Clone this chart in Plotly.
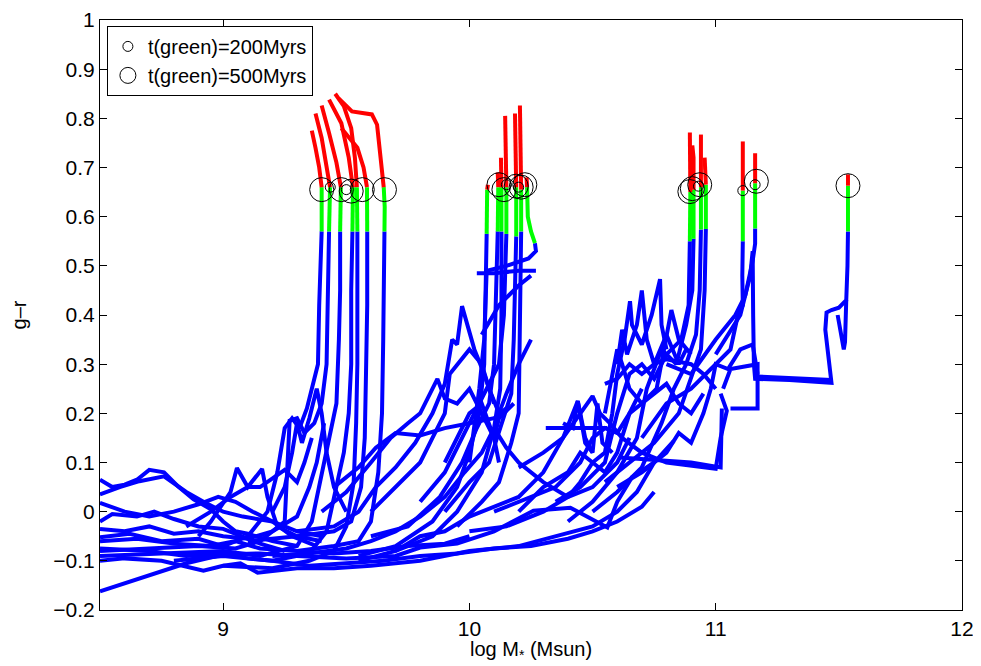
import plotly.graph_objects as go

# ---- data (log M*, g-r) ----
# quenching tracks: blue part, then green part, then red part
q_blue = [
    [(8.5, -0.052), (8.62, -0.045), (8.75, -0.06), (8.9, -0.055), (9.0, -0.07), (9.1, -0.05), (9.18, 0.0),
     (9.22, 0.08), (9.25, 0.17), (9.28, 0.19), (9.31, 0.17), (9.34, 0.21), (9.37, 0.27), (9.385, 0.30),
     (9.39, 0.42), (9.395, 0.52), (9.40, 0.57)],
    [(8.5, -0.08), (8.7, -0.075), (8.9, -0.07), (9.05, -0.075), (9.15, -0.06), (9.25, -0.02), (9.27, 0.185),
     (9.30, 0.19), (9.33, 0.16), (9.37, 0.18), (9.40, 0.22), (9.42, 0.30), (9.425, 0.42), (9.43, 0.57)],
    [(8.5, -0.09), (8.8, -0.085), (9.0, -0.08), (9.15, -0.09), (9.3, -0.07), (9.36, -0.02), (9.40, 0.08),
     (9.43, 0.15), (9.46, 0.22), (9.47, 0.35), (9.475, 0.45), (9.475, 0.57)],
    [(8.8, -0.1), (9.0, -0.09), (9.2, -0.1), (9.35, -0.085), (9.42, -0.04), (9.46, 0.05), (9.49, 0.12),
     (9.51, 0.2), (9.52, 0.3), (9.52, 0.45), (9.525, 0.57)],
    [(9.0, -0.11), (9.2, -0.115), (9.35, -0.1), (9.45, -0.08), (9.5, -0.03), (9.53, 0.06), (9.54, 0.18),
     (9.545, 0.3), (9.545, 0.45), (9.545, 0.57)],
    [(9.1, -0.06), (9.3, -0.05), (9.45, -0.04), (9.52, -0.02), (9.56, 0.05), (9.575, 0.15), (9.58, 0.28),
     (9.585, 0.42), (9.585, 0.57)],
    [(9.3, -0.08), (9.45, -0.07), (9.55, -0.06), (9.6, -0.02), (9.63, 0.08), (9.645, 0.2), (9.65, 0.35),
     (9.655, 0.57)],
    [(9.55, -0.09), (9.7, -0.07), (9.85, -0.02), (9.95, 0.05), (10.0, 0.12), (10.04, 0.2), (10.06, 0.3),
     (10.065, 0.42), (10.07, 0.565)],
    [(9.6, -0.05), (9.75, -0.03), (9.88, 0.03), (9.97, 0.1), (10.03, 0.17), (10.08, 0.22), (10.10, 0.3),
     (10.11, 0.45), (10.115, 0.57)],
    [(9.7, -0.08), (9.85, -0.05), (9.95, 0.0), (10.05, 0.08), (10.1, 0.17), (10.125, 0.25), (10.13, 0.4),
     (10.13, 0.57)],
    [(9.8, 0.02), (9.9, 0.08), (9.97, 0.15), (10.02, 0.2), (10.07, 0.25), (10.12, 0.3), (10.14, 0.4),
     (10.145, 0.52), (10.15, 0.565)],
    [(9.9, 0.0), (10.0, 0.06), (10.08, 0.1), (10.13, 0.18), (10.17, 0.24), (10.18, 0.35), (10.185, 0.5),
     (10.19, 0.56)],
    [(9.95, -0.03), (10.05, 0.02), (10.12, 0.06), (10.17, 0.14), (10.2, 0.2), (10.205, 0.35), (10.21, 0.48),
     (10.21, 0.57)],
    [(10.0, 0.1), (10.04, 0.25), (10.06, 0.35), (10.07, 0.49), (10.15, 0.5), (10.24, 0.515), (10.27, 0.53),
     (10.266, 0.546)],
    [(10.35, 0.02), (10.45, 0.05), (10.55, 0.1), (10.6, 0.2), (10.65, 0.28), (10.7, 0.3), (10.75, 0.27),
     (10.8, 0.32), (10.86, 0.35), (10.89, 0.42), (10.895, 0.55)],
    [(10.4, -0.02), (10.5, 0.02), (10.6, 0.08), (10.68, 0.15), (10.72, 0.25), (10.78, 0.33), (10.84, 0.30),
     (10.88, 0.38), (10.905, 0.45), (10.91, 0.555)],
    [(10.5, 0.0), (10.6, 0.04), (10.7, 0.09), (10.78, 0.18), (10.83, 0.25), (10.88, 0.3), (10.92, 0.36),
     (10.935, 0.45), (10.94, 0.574)],
    [(10.55, 0.06), (10.65, 0.1), (10.75, 0.14), (10.85, 0.2), (10.9, 0.27), (10.94, 0.33), (10.955, 0.45),
     (10.96, 0.575)],
    [(10.7, 0.15), (10.8, 0.22), (10.9, 0.25), (11.0, 0.3), (11.06, 0.33), (11.09, 0.40), (11.11, 0.42),
     (11.108, 0.48), (11.11, 0.55)],
    [(10.8, 0.30), (10.9, 0.28), (11.0, 0.35), (11.08, 0.40), (11.12, 0.44), (11.15, 0.51), (11.16, 0.545),
     (11.16, 0.576)],
    [(11.0, 0.32), (11.1, 0.40), (11.14, 0.48), (11.15, 0.53), (11.152, 0.40), (11.155, 0.30), (11.16, 0.27),
     (11.3, 0.268), (11.47, 0.262), (11.46, 0.30), (11.445, 0.37), (11.45, 0.405), (11.47, 0.41),
     (11.5, 0.415), (11.53, 0.43), (11.535, 0.50), (11.537, 0.57)],
]
q_green = [
    [(9.398, 0.62), (9.40, 0.66)],
    [(9.432, 0.62), (9.434, 0.66)],
    [(9.478, 0.62), (9.478, 0.66)],
    [(9.525, 0.62), (9.527, 0.66)],
    [(9.543, 0.62), (9.543, 0.66)],
    [(9.585, 0.62), (9.584, 0.66)],
    [(9.656, 0.62), (9.652, 0.66)],
    [(10.07, 0.62), (10.072, 0.655)],
    [(10.115, 0.62), (10.117, 0.66)],
    [(10.13, 0.62), (10.13, 0.66)],
    [(10.15, 0.62), (10.15, 0.66)],
    [(10.19, 0.62), (10.19, 0.66)],
    [(10.21, 0.62), (10.21, 0.655)],
    [(10.25, 0.57), (10.237, 0.60), (10.234, 0.66)],
    [(10.895, 0.62), (10.897, 0.65)],
    [(10.91, 0.62), (10.91, 0.655)],
    [(10.94, 0.62), (10.94, 0.66)],
    [(10.96, 0.62), (10.96, 0.665)],
    [(11.11, 0.62), (11.11, 0.653)],
    [(11.16, 0.62), (11.16, 0.668)],
    [(11.537, 0.62), (11.537, 0.663)],
]
q_red = [
    [(9.39, 0.70), (9.375, 0.74), (9.36, 0.775)],
    [(9.42, 0.70), (9.40, 0.76), (9.375, 0.81)],
    [(9.46, 0.71), (9.43, 0.77), (9.40, 0.826)],
    [(9.51, 0.72), (9.48, 0.79), (9.43, 0.838)],
    [(9.535, 0.72), (9.52, 0.78), (9.49, 0.825), (9.455, 0.85)],
    [(9.57, 0.70), (9.545, 0.74), (9.515, 0.76), (9.48, 0.78)],
    [(9.645, 0.69), (9.635, 0.74), (9.625, 0.787), (9.604, 0.808), (9.523, 0.814), (9.495, 0.828),
     (9.47, 0.84)],
    [(10.075, 0.665)],
    [(10.115, 0.69)],
    [(10.128, 0.72)],
    [(10.148, 0.75), (10.145, 0.805)],
    [(10.188, 0.75), (10.185, 0.81)],
    [(10.208, 0.75), (10.205, 0.826)],
    [(10.232, 0.68)],
    [(10.896, 0.72), (10.895, 0.771)],
    [(10.91, 0.72), (10.905, 0.745)],
    [(10.94, 0.72), (10.94, 0.767)],
    [(10.958, 0.70), (10.955, 0.72)],
    [(11.11, 0.70), (11.11, 0.753)],
    [(11.16, 0.70), (11.16, 0.729)],
    [(11.537, 0.686)],
]

# tracks that stay blue
b_tracks = [
    [(8.5, 0.065), (8.55, 0.05), (8.6, 0.055), (8.65, 0.065), (8.7, 0.085), (8.76, 0.08), (8.82, 0.05),
     (8.88, 0.025), (8.95, 0.005), (9.0, -0.02), (9.05, -0.04), (9.1, -0.045), (9.2, -0.06), (9.3, -0.07)],
    [(8.5, 0.035), (8.58, 0.05), (8.66, 0.062), (8.76, 0.072), (8.85, 0.04), (8.92, 0.02), (9.0, 0.0),
     (9.08, -0.01), (9.2, -0.02), (9.3, -0.04), (9.4, -0.05)],
    [(8.5, 0.018), (8.6, 0.0), (8.7, -0.01), (8.8, 0.0), (8.9, 0.015), (8.98, 0.03), (9.05, 0.02),
     (9.12, 0.0), (9.2, -0.02), (9.28, -0.05), (9.38, -0.07)],
    [(8.5, -0.02), (8.55, -0.005), (8.65, -0.01), (8.72, 0.0), (8.8, -0.015), (8.9, -0.03), (9.0, -0.035),
     (9.08, -0.05), (9.15, -0.065), (9.25, -0.08)],
    [(8.5, -0.035), (8.6, -0.04), (8.7, -0.03), (8.8, -0.045), (8.9, -0.04), (9.0, -0.05), (9.1, -0.055),
     (9.2, -0.04), (9.3, -0.01), (9.35, 0.05), (9.38, 0.1), (9.41, 0.18)],
    [(8.5, -0.06), (8.65, -0.055), (8.8, -0.065), (8.95, -0.07), (9.05, -0.06), (9.15, -0.075), (9.3, -0.08),
     (9.45, -0.085), (9.6, -0.08), (9.75, -0.07), (9.9, -0.065), (10.0, -0.05)],
    [(8.5, -0.075), (8.7, -0.08), (8.85, -0.09), (9.0, -0.085), (9.1, -0.095), (9.2, -0.1), (9.35, -0.11),
     (9.5, -0.105), (9.65, -0.1), (9.8, -0.09), (9.95, -0.085), (10.1, -0.075), (10.25, -0.07),
     (10.4, -0.055), (10.5, -0.04), (10.6, -0.02), (10.7, 0.01), (10.75, 0.04)],
    [(8.5, -0.1), (8.6, -0.095), (8.75, -0.1), (8.92, -0.12), (9.0, -0.11), (9.07, -0.105), (9.14, -0.124),
     (9.3, -0.115), (9.45, -0.115), (9.6, -0.11), (9.8, -0.1), (10.0, -0.08), (10.2, -0.07),
     (10.35, -0.05), (10.5, -0.03), (10.6, 0.0), (10.68, 0.04), (10.75, 0.1)],
    [(8.5, -0.162), (8.7, -0.13), (8.85, -0.105), (9.0, -0.087), (9.15, -0.085), (9.3, -0.09), (9.5, -0.095),
     (9.7, -0.09), (9.8, -0.073), (9.95, -0.065), (10.1, -0.04), (10.26, 0.002), (10.41, 0.008),
     (10.56, -0.032), (10.6, 0.02), (10.66, 0.07), (10.75, 0.1), (10.83, 0.144)],
    [(8.9, -0.05), (8.95, -0.02), (9.03, 0.04), (9.056, 0.089), (9.1, 0.05), (9.158, 0.087), (9.18, 0.03),
     (9.22, -0.03), (9.3, -0.05), (9.4, -0.06)],
    [(8.85, -0.03), (8.95, 0.0), (9.03, 0.03), (9.1, 0.05), (9.15, 0.05), (9.25, 0.085), (9.3, 0.06),
     (9.33, 0.1), (9.36, 0.15)],
    [(9.2, -0.09), (9.35, -0.085), (9.5, -0.075), (9.6, -0.06), (9.7, -0.04), (9.8, -0.01), (9.9, 0.03),
     (9.98, 0.08), (10.05, 0.12), (10.1, 0.17), (10.15, 0.13), (10.2, 0.1), (10.3, 0.06), (10.4, 0.03),
     (10.5, 0.05), (10.6, 0.1), (10.65, 0.15)],
    [(9.3, -0.04), (9.45, -0.03), (9.55, 0.0), (9.62, 0.05), (9.7, 0.09), (9.78, 0.14), (9.85, 0.2),
     (9.9, 0.26), (9.93, 0.35), (9.95, 0.34), (9.97, 0.418), (9.99, 0.38), (10.02, 0.33), (10.06, 0.28),
     (10.1, 0.22)],
    [(9.4, 0.0), (9.5, 0.04), (9.6, 0.1), (9.68, 0.15), (9.75, 0.18), (9.8, 0.2), (9.87, 0.27), (9.9, 0.23),
     (9.95, 0.22), (10.0, 0.25), (10.05, 0.2), (10.1, 0.15), (10.12, 0.1)],
    [(9.45, 0.05), (9.55, 0.09), (9.62, 0.13), (9.7, 0.16), (9.8, 0.155), (9.9, 0.17), (10.0, 0.18),
     (10.1, 0.19), (10.15, 0.21)],
    [(9.55, -0.1), (9.7, -0.08), (9.8, -0.05), (9.9, -0.04), (10.0, -0.01), (10.1, 0.01), (10.2, 0.03),
     (10.3, 0.08), (10.38, 0.15), (10.44, 0.225), (10.47, 0.15), (10.5, 0.12)],
    [(10.03, 0.485), (10.1, 0.485), (10.2, 0.49), (10.27, 0.49)],
    [(10.05, 0.36), (10.12, 0.42), (10.2, 0.46), (10.25, 0.48)],
    [(10.0, -0.04), (10.15, -0.03), (10.3, 0.0), (10.4, 0.03), (10.45, 0.06), (10.5, 0.1), (10.55, 0.12),
     (10.58, 0.2), (10.6, 0.28), (10.63, 0.35), (10.652, 0.428), (10.66, 0.38), (10.7, 0.34), (10.74, 0.4),
     (10.774, 0.473), (10.78, 0.38), (10.8, 0.33)],
    [(10.1, 0.0), (10.25, 0.03), (10.35, 0.05), (10.45, 0.1), (10.5, 0.15), (10.55, 0.17), (10.6, 0.16),
     (10.65, 0.2), (10.7, 0.22), (10.76, 0.25), (10.82, 0.41), (10.85, 0.35), (10.9, 0.32)],
    [(10.2, 0.09), (10.3, 0.12), (10.38, 0.15), (10.45, 0.2), (10.5, 0.235), (10.53, 0.2), (10.57, 0.18),
     (10.62, 0.15), (10.7, 0.12), (10.8, 0.1), (11.0, 0.087), (11.02, 0.15), (11.045, 0.205), (11.02, 0.24)],
    [(10.31, 0.17), (10.4, 0.17), (10.5, 0.17), (10.56, 0.17)],
    [(11.06, 0.21), (11.17, 0.21), (11.17, 0.30), (11.06, 0.29), (11.03, 0.25)],
    [(10.6, 0.05), (10.7, 0.08), (10.8, 0.12), (10.85, 0.16), (10.9, 0.14), (10.95, 0.2), (10.98, 0.25),
     (11.0, 0.3), (11.05, 0.29), (11.1, 0.33), (11.15, 0.34), (11.17, 0.28)],
    [(10.55, 0.26), (10.6, 0.27), (10.65, 0.3), (10.7, 0.28), (10.75, 0.3), (10.8, 0.31), (10.9, 0.3),
     (10.95, 0.28), (11.0, 0.25)],
    [(10.61, 0.11), (10.75, 0.105), (10.9, 0.1), (11.02, 0.09), (11.025, 0.21)],
    [(11.16, 0.275), (11.3, 0.272), (11.47, 0.268)],
    [(11.495, 0.40), (11.51, 0.36), (11.52, 0.33), (11.525, 0.345), (11.53, 0.43)],
    [(9.2, 0.0), (9.25, 0.05), (9.28, 0.12), (9.3, 0.18), (9.32, 0.14), (9.35, 0.19), (9.38, 0.25),
     (9.4, 0.2), (9.42, 0.12), (9.45, 0.05), (9.5, 0.0)],
    [(9.6, 0.0), (9.7, 0.05), (9.8, 0.1), (9.85, 0.15), (9.9, 0.2), (9.92, 0.28), (9.95, 0.3), (10.0, 0.33),
     (10.05, 0.3), (10.08, 0.25), (10.12, 0.2), (10.15, 0.24), (10.2, 0.3), (10.25, 0.35)],
    [(9.9, 0.1), (9.95, 0.15), (10.0, 0.2), (10.05, 0.22), (10.08, 0.18), (10.1, 0.15), (10.12, 0.19),
     (10.18, 0.22)],
    [(10.2, 0.0), (10.3, 0.05), (10.4, 0.08), (10.45, 0.12), (10.5, 0.1), (10.55, 0.08), (10.6, 0.12),
     (10.65, 0.2), (10.7, 0.25)],
    [(10.38, 0.18), (10.42, 0.17), (10.44, 0.225), (10.47, 0.14), (10.5, 0.12), (10.52, 0.22), (10.54, 0.14),
     (10.58, 0.12)],
    [(10.6, 0.3), (10.62, 0.37), (10.64, 0.32), (10.68, 0.38), (10.7, 0.45), (10.72, 0.35), (10.75, 0.3),
     (10.8, 0.36), (10.85, 0.3), (10.88, 0.33)],
    [(10.55, 0.2), (10.58, 0.28), (10.6, 0.33), (10.62, 0.3), (10.65, 0.25), (10.7, 0.22), (10.8, 0.26),
     (10.85, 0.22), (10.9, 0.2), (10.95, 0.24)],
]

# circles marking where each track enters the green valley
c200_x = [9.435, 9.50, 10.15, 10.2, 10.93, 11.11, 11.16]
c200_y = [0.66, 0.655, 0.665, 0.66, 0.662, 0.653, 0.665]
c500_x = [9.40, 9.48, 9.52, 9.565, 9.655, 10.12, 10.14, 10.19, 10.21, 10.225, 10.895, 10.905, 10.935,
          11.165, 11.537]
c500_y = [0.655, 0.655, 0.652, 0.655, 0.655, 0.665, 0.655, 0.662, 0.66, 0.665, 0.651, 0.657, 0.665,
          0.672, 0.663]

y_ticks = [-0.2, -0.1, 0, 0.1, 0.2, 0.3, 0.4, 0.5, 0.6, 0.7, 0.8, 0.9, 1]
y_tick_text = ["\u22120.2", "\u22120.1", "0", "0.1", "0.2", "0.3", "0.4", "0.5", "0.6", "0.7", "0.8", "0.9", "1"]
x_ticks = [9, 10, 11, 12]


def join(tracks):
    xs, ys = [], []
    for t in tracks:
        xs += [p[0] for p in t] + [None]
        ys += [p[1] for p in t] + [None]
    return xs, ys


blue = b_tracks + q_blue
green = [[b[-1]] + g for b, g in zip(q_blue, q_green)]
red = [[g[-1]] + r for g, r in zip(q_green, q_red)]

fig = go.Figure()
for tracks, col in [(blue, "#0000ff"), (green, "#00ff00"), (red, "#ff0000")]:
    xs, ys = join(tracks)
    fig.add_trace(go.Scatter(x=xs, y=ys, mode="lines", line=dict(color=col, width=4),
                             showlegend=False, hoverinfo="skip"))

fig.add_trace(go.Scatter(x=c200_x, y=c200_y, mode="markers", name="t(green)=200Myrs",
                         marker=dict(symbol="circle-open", size=10, color="black", line=dict(width=1))))
fig.add_trace(go.Scatter(x=c500_x, y=c500_y, mode="markers", name="t(green)=500Myrs",
                         marker=dict(symbol="circle-open", size=24, color="black", line=dict(width=1))))

axis_common = dict(showline=True, linecolor="black", linewidth=1.2, mirror="ticks", ticks="inside",
                   ticklen=7, tickcolor="black", showgrid=False, zeroline=False, automargin=False,
                   ticklabeloverflow="allow", tickfont=dict(size=21, color="black"))

# page body adds 8 px around the figure, so the figure is 8 px smaller than the window
fig.update_layout(
    width=973, height=658,
    paper_bgcolor="white", plot_bgcolor="white",
    margin=dict(l=92, r=19, t=12, b=56),
    font=dict(family="Liberation Sans, Arial, sans-serif", color="black"),
    xaxis=dict(range=[8.5, 12], tickvals=x_ticks, ticktext=[str(v) for v in x_ticks], **axis_common),
    yaxis=dict(range=[-0.2, 1], tickvals=y_ticks, ticktext=y_tick_text,
               title=dict(text="g\u2013r", font=dict(size=20), standoff=32),
               **axis_common),
    legend=dict(x=0.008, y=0.99, xanchor="left", yanchor="top", bgcolor="white",
                bordercolor="black", borderwidth=1, font=dict(size=20), tracegroupgap=0,
                itemsizing="trace"),
    annotations=[dict(text="log M<sub>*</sub> (Msun)", xref="paper", yref="paper", x=0.5, y=-0.068,
                      xanchor="center", yanchor="middle", showarrow=False, font=dict(size=20))],
)

fig.write_html("out.html")
